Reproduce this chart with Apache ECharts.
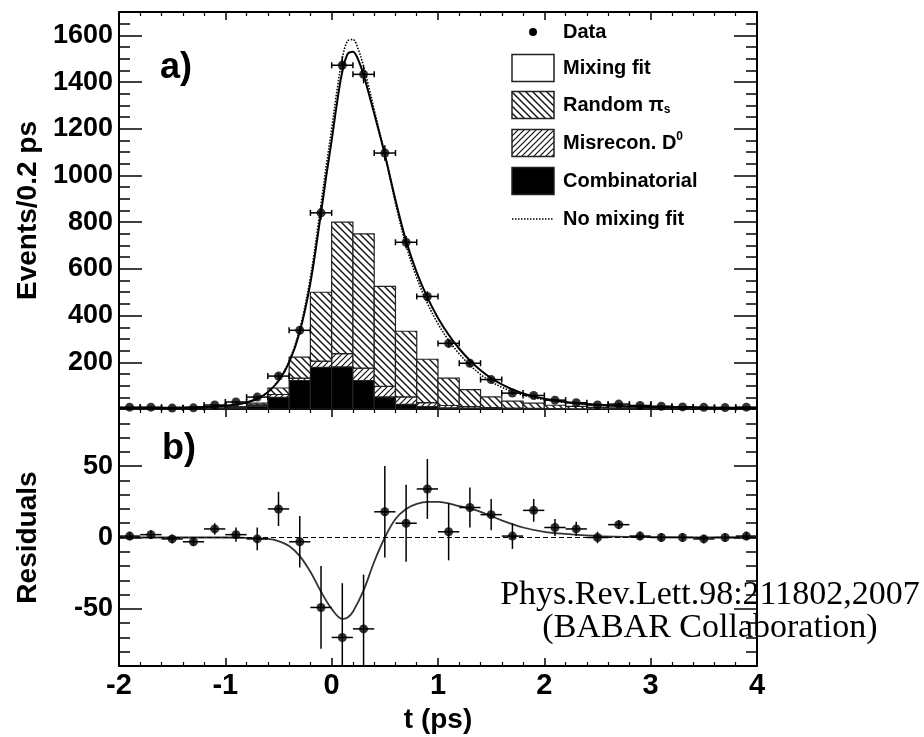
<!DOCTYPE html>
<html><head><meta charset="utf-8">
<script src="https://cdn.jsdelivr.net/npm/echarts@6/dist/echarts.min.js"></script>
<style>html,body{margin:0;padding:0;background:#fff}#c{width:924px;height:737px}</style>
</head><body><div id="c"></div>
<script>
// ---------- data ----------
const binCenters = [-1.9,-1.7,-1.5,-1.3,-1.1,-0.9,-0.7,-0.5,-0.3,-0.1,0.1,0.3,0.5,0.7,0.9,1.1,1.3,1.5,1.7,1.9,2.1,2.3,2.5,2.7,2.9,3.1,3.3,3.5,3.7,3.9];
const binHalfWidth = 0.1;
const dataCounts = [8,8,4,5,17,30,51,141,337,840,1472,1433,1096,714,482,281,196,126,68,58,38,27,17,21,15,12,9,7,6,8];
const dataErrors = [3,3,2,2,4,5,7,12,18,29,38,38,33,27,22,17,14,11,8,8,6,5,4,5,4,3,3,3,2,3];
const combinatorial = [1,1,1,1,2,4,12,50,122,178,180,122,52,20,10,5,3,2,1,1,1,0,0,0,0,0,0,0,0,0];
const misreconD0 = [0,0,1,1,1,2,6,12,10,27,57,53,45,32,17,10,7,4,3,2,1,1,1,1,0,0,0,0,0,0];
const randomPi = [1,1,1,1,2,4,7,28,90,295,563,575,428,281,186,117,73,46,30,22,14,10,6,4,4,3,2,2,1,1];

const curveT = [-2.0,-1.6,-1.2,-1.0,-0.9,-0.8,-0.7,-0.6,-0.5,-0.4,-0.3,-0.2,-0.1,-0.05,0.0,0.05,0.1,0.15,0.2,0.25,0.3,0.35,0.4,0.5,0.6,0.7,0.8,0.9,1.0,1.1,1.2,1.3,1.4,1.5,1.6,1.7,1.8,1.9,2.0,2.2,2.4,2.6,2.8,3.0,3.5,4.0];
const mixingFit = [4,5,9,14,19,28,44,72,120,200,330,540,840,1000,1150,1310,1445,1520,1530,1495,1430,1350,1265,1090,895,720,585,478,390,318,258,208,166,132,105,84,67,54,44,30,21,15,11,9,6,4];
const noMixingFit = [4,5,9,14,19,28,45,73,123,206,343,564,878,1044,1200,1364,1502,1576,1582,1540,1467,1377,1282,1090,882,700,562,453,365,294,236,188,148,117,93,75,60,49,40,28,20,14,11,9,6,4];

const residValues = [1,2,-1,-3,6,2,-1,20,-3,-49,-70,-64,18,10,34,4,21,16,1,19,7,6,0,9,1,0,0,-1,0,1];
const residErrors = [3,3,3,3,4,5,8,12,18,29,38,38,32,27,21,20,14,11,9,8,6,5,4,3,3,3,3,3,3,3];
const residT = [-2,-1.0,-0.8,-0.6,-0.5,-0.4,-0.3,-0.2,-0.1,0,0.1,0.15,0.2,0.3,0.4,0.5,0.6,0.7,0.8,0.9,1.0,1.2,1.4,1.6,1.8,2.0,2.2,2.5,3.0,4.0];
const residFit = [0,0,-0.3,-1,-2.5,-6,-13,-24,-38,-50,-57,-56,-52,-37,-17,0,13,20,23.5,25,25,22,18,12,7,4,2.5,1,0.3,0];

const xRange = [-2, 4];
const xTickLabels = [-2,-1,0,1,2,3,4];
const topRange = [0, 1700];
const topTickLabels = [200,400,600,800,1000,1200,1400,1600];
const residRange = [-90, 90];
const residTickLabels = [-50, 0, 50];

// ---------- styling ----------
const SANS = 'Liberation Sans';
const AX = '#000';

function hatch(dir, size, lw) {
  const c = document.createElement('canvas'); c.width = size; c.height = size;
  const g = c.getContext('2d'); g.fillStyle = '#fff'; g.fillRect(0,0,size,size);
  g.strokeStyle = '#111'; g.lineWidth = lw; g.beginPath();
  if (dir === 'back') {
    g.moveTo(-1,-1); g.lineTo(size+1,size+1);
    g.moveTo(-2,size-2); g.lineTo(2,size+2);
    g.moveTo(size-2,-2); g.lineTo(size+2,2);
  } else {
    g.moveTo(-1,size+1); g.lineTo(size+1,-1);
    g.moveTo(-2,2); g.lineTo(2,-2);
    g.moveTo(size-2,size+2); g.lineTo(size+2,size-2);
  }
  g.stroke();
  return c;
}
const randomFill = {image: hatch('back', 7, 1.4), repeat: 'repeat'};
const misFill = {image: hatch('fwd', 6, 1.2), repeat: 'repeat'};

// stacking bases
const baseMis = combinatorial.slice();
const baseRand = combinatorial.map((c,i)=>c+misreconD0[i]);
const zeros = combinatorial.map(()=>0);

function histSeries(name, vals, bases, fill) {
  return {
    type: 'custom', name, xAxisIndex: 0, yAxisIndex: 0, z: 2, silent: true,
    dimensions: ['t','v','b'], encode: {x: 0, y: 1},
    data: binCenters.map((c,i)=>[c, vals[i], bases[i]]),
    renderItem(params, api) {
      const c = api.value(0), v = api.value(1), b = api.value(2);
      if (!(v > 0)) return null;
      const p0 = api.coord([c - binHalfWidth, b]);
      const p1 = api.coord([c + binHalfWidth, b + v]);
      return {type: 'rect', shape: {x: p0[0], y: p1[1], width: p1[0]-p0[0], height: p0[1]-p1[1]},
        style: {fill, stroke: '#222', lineWidth: 1.2}};
    }
  };
}

function errSeries(xi, yi, vals, errs, lo, hi, caps) {
  return {
    type: 'custom', xAxisIndex: xi, yAxisIndex: yi, z: 4, silent: true,
    dimensions: ['t','v','e'], encode: {x: 0, y: 1},
    data: binCenters.map((c,i)=>[c, vals[i], errs[i]]),
    renderItem(params, api) {
      const t = api.value(0), v = api.value(1), e = api.value(2);
      const l = api.coord([t - binHalfWidth, v]), r = api.coord([t + binHalfWidth, v]);
      const top = api.coord([t, Math.min(hi, v + e)]), bot = api.coord([t, Math.max(lo, v - e)]);
      const st = {stroke: '#000', lineWidth: 1.5};
      const ch = [
        {type: 'line', shape: {x1: l[0], y1: l[1], x2: r[0], y2: r[1]}, style: st},
        {type: 'line', shape: {x1: top[0], y1: top[1], x2: bot[0], y2: bot[1]}, style: st}
      ];
      if (caps) {
        ch.push({type: 'line', shape: {x1: l[0], y1: l[1]-3, x2: l[0], y2: l[1]+3}, style: st});
        ch.push({type: 'line', shape: {x1: r[0], y1: r[1]-3, x2: r[0], y2: r[1]+3}, style: st});
      }
      return {type: 'group', children: ch};
    }
  };
}

const yTickFont = {fontFamily: SANS, fontWeight: 'bold', fontSize: 27, color: '#000'};
const xTickFont = {fontFamily: SANS, fontWeight: 'bold', fontSize: 29, color: '#000'};
const nameFont = {fontFamily: SANS, fontWeight: 'bold', fontSize: 28, color: '#000'};

function xAx(grid, pos, showLabels, name) {
  return {
    type: 'value', gridIndex: grid, position: pos, min: xRange[0], max: xRange[1], interval: 1,
    axisLine: {show: true, onZero: false, lineStyle: {color: AX, width: 2}},
    axisTick: {show: true, inside: true, length: 8, lineStyle: {color: AX, width: 1.5}},
    minorTick: {show: true, splitNumber: 5, length: 4, lineStyle: {color: AX, width: 1.2}},
    splitLine: {show: false}, minorSplitLine: {show: false},
    axisLabel: Object.assign({show: showLabels, margin: 5,
      formatter: v => xTickLabels.includes(v) ? String(v) : ''}, xTickFont),
    name: name || '', nameLocation: 'middle', nameGap: 40, nameTextStyle: nameFont
  };
}
function yMinor(grid, pos, range, interval, labels, name, showLabels) {
  return {
    type: 'value', gridIndex: grid, position: pos, min: range[0], max: range[1], interval,
    axisLine: {show: true, onZero: false, lineStyle: {color: AX, width: 2}},
    axisTick: {show: true, inside: true, length: 11, lineStyle: {color: AX, width: 1.5}},
    splitLine: {show: false},
    axisLabel: Object.assign({show: showLabels, margin: 6,
      formatter: v => labels.includes(v) ? String(v) : ''}, yTickFont),
    name: name || '', nameLocation: 'middle', nameGap: 77, nameTextStyle: nameFont
  };
}
function yMajor(grid, pos, range, majors) {
  return {
    type: 'value', gridIndex: grid, position: pos, min: range[0], max: range[1],
    axisLine: {show: false, onZero: false},
    axisTick: {show: true, inside: true, length: 23, customValues: majors, lineStyle: {color: AX, width: 1.5}},
    splitLine: {show: false}, axisLabel: {show: false}
  };
}
const topMajors = [0].concat(topTickLabels);

const legendX = 512, legendTextX = 563, boxW = 42, boxH = 27;
const legendRows = [32, 68, 105, 143, 181, 219];
const legendFont = 'bold 20px "Liberation Sans"';
function ltext(y, text, rich) {
  const s = {text, x: legendTextX, y, font: legendFont, fill: '#000', align: 'left', verticalAlign: 'middle',
    textAlign: 'left', textVerticalAlign: 'middle'};
  if (rich) s.rich = rich;
  return {type: 'text', style: s, z: 10};
}
function lbox(y, fill) {
  return {type: 'rect', shape: {x: legendX, y: y - boxH/2, width: boxW, height: boxH},
    style: {fill, stroke: '#222', lineWidth: 1.5}, z: 10};
}

const option = {
  animation: false,
  backgroundColor: '#fff',
  grid: [
    {left: 119, right: 167, top: 12, height: 397, outerBoundsMode: 'none', containLabel: false},
    {left: 119, right: 167, top: 409, height: 257, outerBoundsMode: 'none', containLabel: false}
  ],
  xAxis: [
    xAx(0, 'bottom', false), xAx(0, 'top', false),
    xAx(1, 'bottom', true, 't (ps)'), xAx(1, 'top', false)
  ],
  yAxis: [
    yMinor(0, 'left', topRange, 50, topTickLabels, 'Events/0.2 ps', true),
    yMajor(0, 'left', topRange, topMajors),
    yMinor(0, 'right', topRange, 50, topTickLabels, '', false),
    yMajor(0, 'right', topRange, topMajors),
    yMinor(1, 'left', residRange, 10, residTickLabels, 'Residuals', true),
    yMajor(1, 'left', residRange, residTickLabels),
    yMinor(1, 'right', residRange, 10, residTickLabels, '', false),
    yMajor(1, 'right', residRange, residTickLabels)
  ],
  series: [
    histSeries('Combinatorial', combinatorial, zeros, '#000'),
    histSeries('Misrecon. D0', misreconD0, baseMis, misFill),
    histSeries('Random pi_s', randomPi, baseRand, randomFill),
    {type: 'line', name: 'No mixing fit', xAxisIndex: 0, yAxisIndex: 0, z: 3, showSymbol: false, smooth: 0.35,
      data: curveT.map((t,i)=>[t, noMixingFit[i]]), lineStyle: {color: '#000', width: 1.6, type: [1.5, 1.5]}},
    {type: 'line', name: 'Mixing fit', xAxisIndex: 0, yAxisIndex: 0, z: 3, showSymbol: false, smooth: 0.35,
      data: curveT.map((t,i)=>[t, mixingFit[i]]), lineStyle: {color: '#000', width: 2}},
    errSeries(0, 0, dataCounts, dataErrors, topRange[0], topRange[1], true),
    {type: 'scatter', name: 'Data', xAxisIndex: 0, yAxisIndex: 0, z: 5, symbolSize: 9,
      itemStyle: {color: '#000'}, data: binCenters.map((t,i)=>[t, dataCounts[i]])},
    {type: 'line', name: 'Residual fit', xAxisIndex: 2, yAxisIndex: 4, z: 3, showSymbol: false, smooth: 0.35,
      data: residT.map((t,i)=>[t, residFit[i]]), lineStyle: {color: '#333', width: 1.8},
      markLine: {silent: true, symbol: ['none','none'], label: {show: false},
        lineStyle: {color: '#000', width: 1, type: [5, 3]}, data: [{yAxis: 0}]}},
    errSeries(2, 4, residValues, residErrors, residRange[0], residRange[1], false),
    {type: 'scatter', name: 'Residuals', xAxisIndex: 2, yAxisIndex: 4, z: 5, symbolSize: 9,
      itemStyle: {color: '#000'}, data: binCenters.map((t,i)=>[t, residValues[i]])}
  ],
  graphic: [
    {type: 'text', style: {text: 'a)', x: 160, y: 68, font: 'bold 36px "Liberation Sans"', fill: '#000',
      align: 'left', verticalAlign: 'middle', textAlign: 'left', textVerticalAlign: 'middle'}, z: 10},
    {type: 'text', style: {text: 'b)', x: 162, y: 449, font: 'bold 36px "Liberation Sans"', fill: '#000',
      align: 'left', verticalAlign: 'middle', textAlign: 'left', textVerticalAlign: 'middle'}, z: 10},
    {type: 'circle', shape: {cx: 533, cy: legendRows[0], r: 4}, style: {fill: '#000'}, z: 10},
    ltext(legendRows[0], 'Data'),
    lbox(legendRows[1], '#fff'),
    ltext(legendRows[1], 'Mixing fit'),
    lbox(legendRows[2], randomFill),
    ltext(legendRows[2], '{a|Random }{p|π}{s|s}', {
      a: {font: legendFont, fill: '#000'},
      p: {font: 'bold 20px "Liberation Sans"', fill: '#000'},
      s: {font: 'bold 12px "Liberation Sans"', fill: '#000', verticalAlign: 'bottom', padding: [10,0,0,0]}
    }),
    lbox(legendRows[3], misFill),
    ltext(legendRows[3], '{a|Misrecon. D}{s|0}', {
      a: {font: legendFont, fill: '#000'},
      s: {font: 'bold 12px "Liberation Sans"', fill: '#000', verticalAlign: 'top', padding: [0,0,12,0]}
    }),
    lbox(legendRows[4], '#000'),
    ltext(legendRows[4], 'Combinatorial'),
    {type: 'line', shape: {x1: legendX, y1: legendRows[5], x2: legendX + boxW, y2: legendRows[5]},
      style: {stroke: '#000', lineWidth: 1.4, lineDash: [1.5, 1.5]}, z: 10},
    ltext(legendRows[5], 'No mixing fit'),
    {type: 'text', style: {text: 'Phys.Rev.Lett.98:211802,2007', x: 710, y: 595, font: '34px "Liberation Serif"',
      fill: '#000', align: 'center', verticalAlign: 'middle', textAlign: 'center', textVerticalAlign: 'middle'}, z: 20},
    {type: 'text', style: {text: '(BABAR Collaboration)', x: 710, y: 628, font: '34px "Liberation Serif"',
      fill: '#000', align: 'center', verticalAlign: 'middle', textAlign: 'center', textVerticalAlign: 'middle'}, z: 20}
  ]
};

const chart = echarts.init(document.getElementById('c'), null, {renderer: 'canvas'});
chart.setOption(option);
</script>
</body></html>
